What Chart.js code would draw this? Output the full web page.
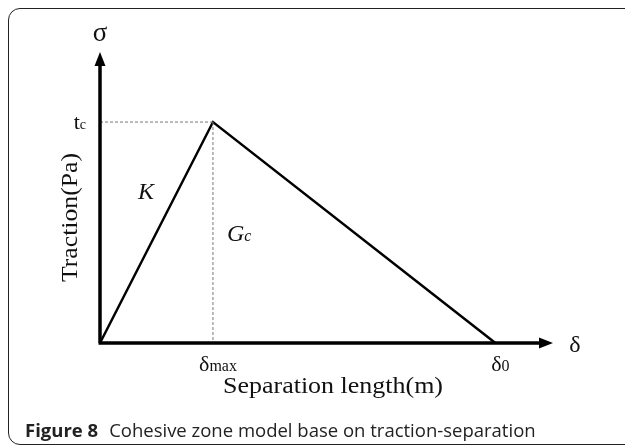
<!DOCTYPE html>
<html>
<head>
<meta charset="utf-8">
<script src="https://cdn.jsdelivr.net/npm/chart.js@4"></script>
<style>
  html, body { margin: 0; padding: 0; background: #fff; overflow: hidden; }
  #wrap { position: relative; width: 625px; height: 447px; overflow: hidden; }
  #frame {
    position: absolute; left: 8px; top: 8px; width: 650px; height: 437px;
    border: 1.5px solid #222; border-radius: 12px; box-sizing: border-box;
  }
  #grafico { position: absolute; left: 0; top: 0; }
  #legenda {
    position: absolute; left: 25px; top: 417px; white-space: nowrap;
    font-family: "Open Sans", sans-serif; font-size: 18.5px; color: #222;
  }
  #legenda b { font-weight: 700; margin-right: 11px; }
</style>
</head>
<body>
<div id="wrap">
  <div id="frame"></div>
  <canvas id="grafico" width="625" height="447"></canvas>
  <div id="legenda"><b>Figure 8</b>Cohesive zone model base on traction-separation</div>
</div>
<script>
// separação (δ) e tração (σ), em unidades de δmax e tc
const separacao = [0, 1, 3.5];
const tracao = [0, 1, 0];
const picoX = 1;
const picoY = 1;
const xMax = 4.01;
const yMax = 1.317;
const ticksX = [1, 3.5];
const ticksXTexto = [["δ", "max"], ["δ", "0"]];
const ticksY = [1];
const ticksYTexto = [["t", "c"]];

const serif = '"Liberation Serif", "Times New Roman", serif';

function escreverSub(ctx, base, sub, x, y, tam, subTam, alinhar) {
  ctx.font = `${tam}px ${serif}`;
  const w1 = ctx.measureText(base).width;
  ctx.font = `${subTam}px ${serif}`;
  const w2 = ctx.measureText(sub).width;
  let x0 = x;
  if (alinhar === "right") x0 = x - w1 - w2;
  if (alinhar === "center") x0 = x - (w1 + w2) / 2;
  ctx.textAlign = "left";
  ctx.textBaseline = "alphabetic";
  ctx.font = `${tam}px ${serif}`;
  ctx.fillText(base, x0, y);
  ctx.font = `${subTam}px ${serif}`;
  ctx.fillText(sub, x0 + w1, y);
}

// texto centrado, esticado na horizontal até a largura pedida
function escreverLargura(ctx, texto, x, y, largura) {
  const w = ctx.measureText(texto).width;
  ctx.save();
  ctx.translate(x, y);
  ctx.scale(largura / w, 1);
  ctx.textAlign = "center";
  ctx.textBaseline = "alphabetic";
  ctx.fillText(texto, 0, 0);
  ctx.restore();
}

const eixosPlugin = {
  id: "eixos",
  afterDatasetsDraw(chart) {
    const ctx = chart.ctx;
    const sx = chart.scales.x;
    const sy = chart.scales.y;
    const x0 = sx.getPixelForValue(0);
    const y0 = sy.getPixelForValue(0);
    const xFim = sx.getPixelForValue(xMax);
    const yFim = sy.getPixelForValue(yMax);

    ctx.save();
    ctx.strokeStyle = "#000";
    ctx.fillStyle = "#000";
    ctx.lineWidth = 3.5;
    ctx.beginPath();
    ctx.moveTo(x0, y0);
    ctx.lineTo(x0, yFim + 10);
    ctx.moveTo(x0 - 1.5, y0);
    ctx.lineTo(xFim - 10, y0);
    ctx.stroke();

    // setas
    ctx.beginPath();
    ctx.moveTo(x0, yFim);
    ctx.lineTo(x0 - 5.5, yFim + 14);
    ctx.lineTo(x0 + 5.5, yFim + 14);
    ctx.closePath();
    ctx.fill();
    ctx.beginPath();
    ctx.moveTo(xFim, y0);
    ctx.lineTo(xFim - 14, y0 - 5.5);
    ctx.lineTo(xFim - 14, y0 + 5.5);
    ctx.closePath();
    ctx.fill();

    ctx.fillStyle = "#111";
    ctx.textAlign = "center";
    ctx.textBaseline = "alphabetic";
    ctx.font = `27px ${serif}`;
    ctx.fillText("σ", x0, yFim - 11);
    ctx.font = `24px ${serif}`;
    ctx.fillText("δ", xFim + 22, y0 + 9);

    ticksX.forEach((v, i) => {
      const [b, s] = ticksXTexto[i];
      escreverSub(ctx, b, s, sx.getPixelForValue(v) + 5, y0 + 28, 22, 16, "center");
    });
    ticksY.forEach((v, i) => {
      const [b, s] = ticksYTexto[i];
      escreverSub(ctx, b, s, x0 - 14, sy.getPixelForValue(v) + 7, 22, 14, "right");
    });

    // rótulos das regiões
    ctx.font = `italic 24px ${serif}`;
    ctx.textAlign = "center";
    ctx.textBaseline = "alphabetic";
    ctx.fillText("K", sx.getPixelForValue(0.407), sy.getPixelForValue(0.652));
    ctx.textAlign = "left";
    const gx = sx.getPixelForValue(1.124);
    const gy = sy.getPixelForValue(0.4616);
    ctx.fillText("G", gx, gy);
    const wg = ctx.measureText("G").width;
    ctx.font = `italic 16px ${serif}`;
    ctx.fillText("c", gx + wg, gy);

    // títulos dos eixos
    ctx.font = `24px ${serif}`;
    escreverLargura(ctx, "Separation length(m)", 333, 393, 220);
    ctx.translate(77, 217.5);
    ctx.rotate(-Math.PI / 2);
    escreverLargura(ctx, "Traction(Pa)", 0, 0, 129);
    ctx.restore();
  }
};

const ctx = document.getElementById("grafico").getContext("2d");

new Chart(ctx, {
  type: "line",
  data: {
    datasets: [
      {
        data: [{ x: 0, y: picoY }, { x: picoX, y: picoY }],
        borderColor: "#777",
        borderWidth: 1,
        borderDash: [3, 2],
        pointRadius: 0,
      },
      {
        data: [{ x: picoX, y: picoY }, { x: picoX, y: 0 }],
        borderColor: "#777",
        borderWidth: 1,
        borderDash: [3, 2],
        pointRadius: 0,
      },
      {
        data: separacao.map((s, i) => ({ x: s, y: tracao[i] })),
        borderColor: "#000",
        borderWidth: 2.5,
        pointRadius: 0,
        tension: 0,
      },
    ],
  },
  options: {
    responsive: false,
    animation: false,
    clip: false,
    layout: { padding: { left: 100, right: 72, top: 52, bottom: 104 } },
    plugins: { legend: { display: false }, tooltip: { enabled: false } },
    scales: {
      x: { type: "linear", min: 0, max: xMax, display: false },
      y: { type: "linear", min: 0, max: yMax, display: false },
    },
  },
  plugins: [eixosPlugin],
});
</script>
</body>
</html>
